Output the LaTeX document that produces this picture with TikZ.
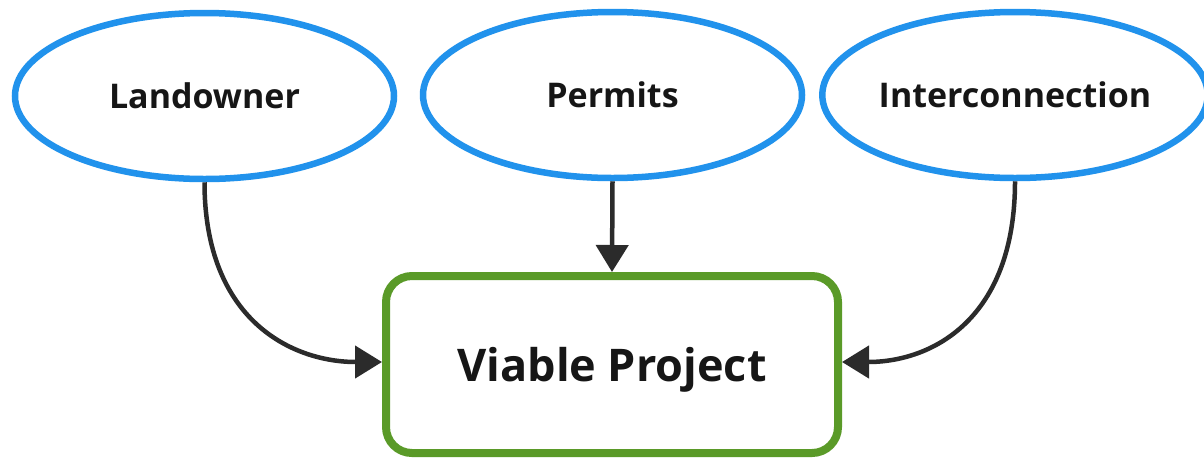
\documentclass[tikz,border=0pt]{standalone}
\usepackage{fontspec}
\setmainfont{Open Sans}
\usetikzlibrary{shapes.geometric,arrows.meta}
\definecolor{ovalblue}{RGB}{33,146,236}
\definecolor{boxgreen}{RGB}{90,154,40}
\definecolor{arrowgray}{RGB}{43,43,43}
\definecolor{txt}{RGB}{22,22,22}
\begin{document}
\begin{tikzpicture}[x=1pt,y=-1pt,
  oval/.style={ellipse,draw=ovalblue,line width=6.5pt,inner sep=0pt,minimum height=166pt,
    text=txt,font=\fontsize{34}{40}\selectfont\bfseries},
  goalbox/.style={rectangle,rounded corners=26pt,draw=boxgreen,line width=8pt,
    minimum width=452pt,minimum height=177pt,text=txt,text height=33pt,text depth=0pt,
    font=\fontsize{45}{54}\selectfont\bfseries},
  conn/.style={draw=arrowgray,line width=4.5pt,-{Triangle[length=27pt,width=32pt]}}]
\fill[white] (0,0) rectangle (1204,459);
\useasboundingbox (0,0) rectangle (1204,459);
\node[oval,minimum width=379pt] (lo) at (204.5,96) {Landowner};
\node[oval,minimum width=379pt] (pe) at (612.5,95) {Permits};
\node[oval,minimum width=370pt] (ic) at (1015,95) {Interconnection};
\node[goalbox] (vp) at (612,364.5) {Viable Project};
\draw[conn] (pe.south) -- (vp.north);
\draw[conn] (lo.south) .. controls +(0,138) and +(-90,0) .. ([yshift=2.5pt]vp.west);
\draw[conn] (ic.south) .. controls +(0,138) and +(90,0) .. ([yshift=2.5pt]vp.east);
\end{tikzpicture}
\end{document}
